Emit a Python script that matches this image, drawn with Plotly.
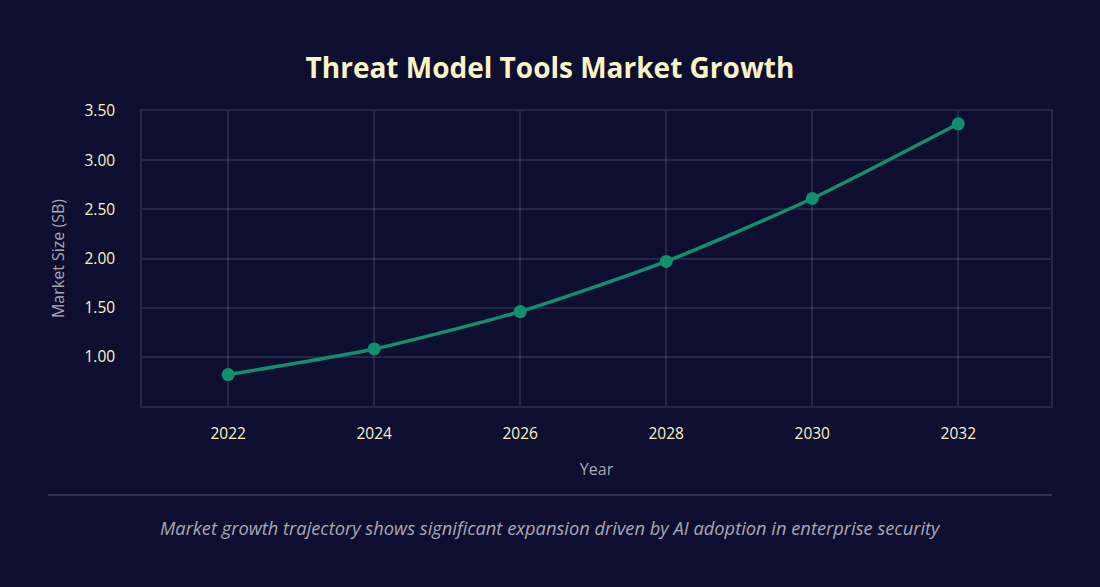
import plotly.graph_objects as go

years = [2022, 2024, 2026, 2028, 2030, 2032]
market_size = [0.82, 1.08, 1.46, 1.97, 2.61, 3.37]
y_ticks = [1.0, 1.5, 2.0, 2.5, 3.0, 3.5]
y_tick_labels = ["1.00", "1.50", "2.00", "2.50", "3.00", "3.50"]

BG = "#0e0e30"
CREAM = "#fbf5c6"
GREY = "#a9a9b4"
GRID = "rgba(255,255,255,0.1)"
TEAL = "#11906f"

fig = go.Figure()
fig.add_trace(go.Scatter(
    x=years, y=market_size, mode="lines+markers",
    line=dict(color=TEAL, width=3.5, shape="spline", smoothing=0.6),
    marker=dict(color=TEAL, size=13),
    hoverinfo="x+y", showlegend=False,
))

fig.update_layout(
    width=1100, height=587,
    paper_bgcolor=BG, plot_bgcolor=BG,
    margin=dict(l=142, r=49, t=111, b=181),
    title=dict(text="<b>Threat Model Tools Market Growth</b>", x=0.5, xanchor="center",
               y=1 - 68 / 587, yanchor="middle",
               font=dict(family="Open Sans", size=28, color=CREAM)),
    font=dict(family="Open Sans"),
    xaxis=dict(
        range=[2020.82, 2033.27], tickvals=years, ticktext=[str(y) for y in years],
        showgrid=True, gridcolor=GRID, gridwidth=1.5,
        showline=True, linecolor=GRID, linewidth=1.5, mirror=True,
        zeroline=False, ticks="", ticklabelstandoff=13,
        tickfont=dict(size=15.5, color=CREAM),
        title=dict(text="Year", font=dict(size=16, color=GREY), standoff=20),
    ),
    yaxis=dict(
        range=[0.5, 3.5], tickvals=y_ticks, ticktext=y_tick_labels,
        showgrid=True, gridcolor=GRID, gridwidth=1.5,
        showline=True, linecolor=GRID, linewidth=1.5, mirror=True,
        zeroline=False, ticks="", ticklabelstandoff=22,
        tickfont=dict(size=15.5, color=CREAM),
        title=dict(text="Market Size (SB)", font=dict(size=16, color=GREY), standoff=16),
    ),
)

fig.add_shape(type="line", xref="paper", yref="paper",
              x0=(48 - 142) / 909, x1=(1052 - 142) / 909,
              y0=(406 - 495) / 295, y1=(406 - 495) / 295,
              line=dict(color="rgba(255,255,255,0.2)", width=1.5))

fig.add_annotation(
    text="<i>Market growth trajectory shows significant expansion driven by AI adoption in enterprise security</i>",
    xref="paper", yref="paper", x=(550 - 142) / 909, y=(406 - 527) / 295,
    xanchor="center", yanchor="middle", showarrow=False,
    font=dict(family="Open Sans", size=18.3, color=GREY),
)

fig.write_html("out.html", config={"displayModeBar": False},
               post_script="document.body.style.margin='0';document.body.style.background='#0e0e30';document.body.style.overflow='hidden';")
